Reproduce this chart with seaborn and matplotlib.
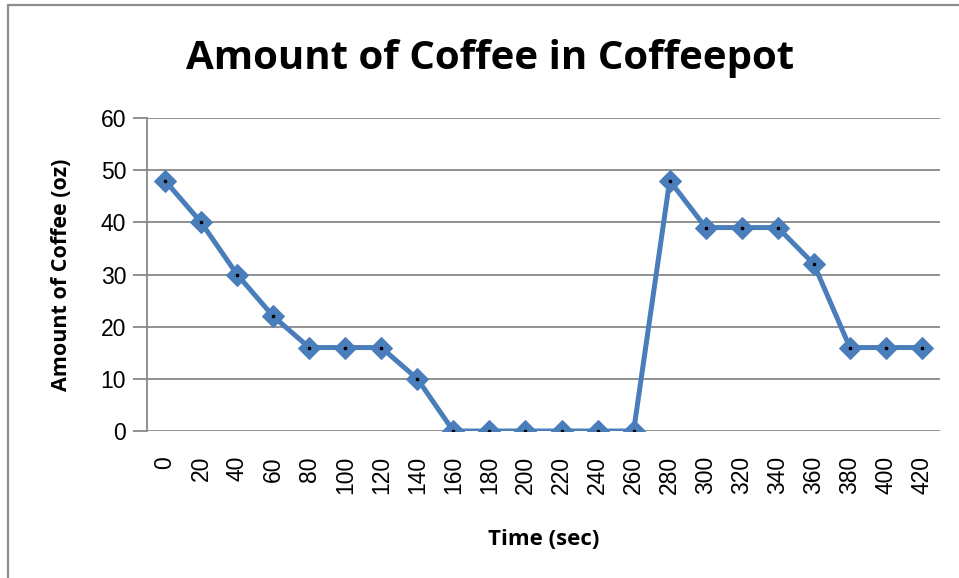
import matplotlib
matplotlib.use("Agg")
import matplotlib.pyplot as plt
import seaborn as sns
import pandas as pd
from matplotlib.lines import Line2D

time_labels = ["0", "20", "40", "60", "80", "100", "120", "140", "160", "180", "200",
               "220", "240", "260", "280", "300", "320", "340", "360", "380", "400", "420"]
coffee_oz = [48, 40, 30, 22, 16, 16, 16, 10, 0, 0, 0, 0, 0, 0, 48, 39, 39, 39, 32, 16, 16, 16]
y_ticks = [0, 10, 20, 30, 40, 50, 60]

df = pd.DataFrame({"pos": range(len(time_labels)), "time": time_labels, "coffee": coffee_oz})

sns.set_theme(style="white")
plt.rcParams["font.family"] = ["Liberation Sans", "DejaVu Sans"]
plt.rcParams["text.color"] = "black"
plt.rcParams["axes.labelcolor"] = "black"
plt.rcParams["xtick.color"] = "black"
plt.rcParams["ytick.color"] = "black"

fig = plt.figure(figsize=(9.59, 5.78), dpi=100)
ax = fig.add_axes([0.1533, 0.2543, 0.8269, 0.5415])

grid_c = "#888888"
for v in y_ticks:
    ax.axhline(v, color=grid_c, lw=1.3, zorder=0)

sns.lineplot(data=df, x="pos", y="coffee", ax=ax, color="#4A7EBB", lw=3.6,
             marker="D", markersize=11, markeredgecolor="#4A7EBB", zorder=3)
ax.plot(df["pos"], df["coffee"], ls="none", marker="s", markersize=1.6, color="black", zorder=4)

ax.set_xlim(-0.5, len(time_labels) - 0.5)
ax.set_ylim(0, 60)
ax.set_yticks(y_ticks)
ax.set_xticks(df["pos"])
ax.set_xticklabels(time_labels, rotation=90, fontsize=16.5)
ax.set_yticklabels([str(v) for v in y_ticks], fontsize=16.5)
ax.tick_params(axis="y", length=10, width=1.3, color=grid_c, labelcolor="black", left=True, pad=5)
ax.tick_params(axis="x", length=0, pad=18, labelcolor="black")

for s in ["top", "right", "bottom"]:
    ax.spines[s].set_visible(False)
ax.spines["left"].set_color(grid_c)
ax.spines["left"].set_linewidth(1.3)

ax.set_xlabel("Time (sec)", fontsize=16, fontweight="bold", family=["Open Sans", "DejaVu Sans"],
              labelpad=25, color="black")
ax.set_ylabel("Amount of Coffee (oz)", fontsize=15.5, fontweight="bold", family=["Open Sans", "DejaVu Sans"],
              labelpad=21, color="black")

fig.text(0.511, 0.898, "Amount of Coffee in Coffeepot", ha="center", va="center", color="black",
         fontsize=29, fontweight="bold", family=["Open Sans", "DejaVu Sans"])

# outer chart border (left and top visible)
fig.add_artist(Line2D([8 / 959, 8 / 959], [0, 1 - 5 / 578], transform=fig.transFigure, color="#8c8c8c", lw=1.6))
fig.add_artist(Line2D([8 / 959, 1], [1 - 5 / 578, 1 - 5 / 578], transform=fig.transFigure, color="#8c8c8c", lw=1.6))

fig.savefig("out.png", dpi=100)
